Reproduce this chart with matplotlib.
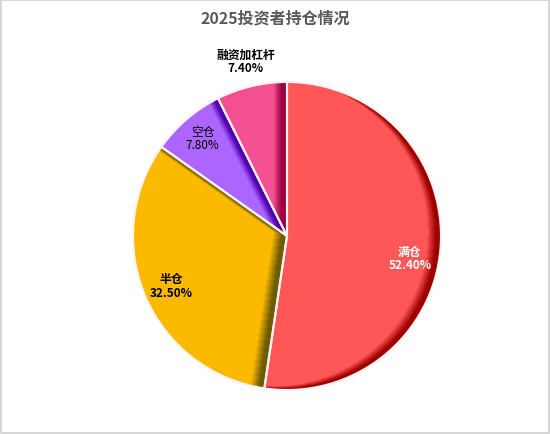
import numpy as np
import matplotlib
matplotlib.use("Agg")
import matplotlib.pyplot as plt
from matplotlib.patches import Rectangle

plt.rcParams['font.family'] = ['Noto Sans CJK SC', 'DejaVu Sans']

# data
labels = ['满仓', '半仓', '空仓', '融资加杠杆']
values = [52.40, 32.50, 7.80, 7.40]

# styles
colors = ['#FF5757', '#FBB900', '#AC66FF', '#F2508F']
shadow_colors = ['#9E0000', '#6E5C00', '#5000B0', '#9A0040']
label_colors = ['white', 'black', 'black', 'black']
label_weights = ['bold', 'bold', 'normal', 'bold']
label_dist = [0.81, 0.82, 0.84, 1.17]
label_turn = [-6, 0, 0, 0]

W, H = 550, 435
fig = plt.figure(figsize=(W / 100, H / 100), dpi=100)
ax = fig.add_axes([0, 0, 1, 1])

center = (287, 198)
R = 154


def fix_axes():
    ax.set_xlim(0, W)
    ax.set_ylim(0, H)
    ax.axis('off')


wedges, _ = ax.pie(values, colors=colors, startangle=90, counterclock=False,
                   center=center, radius=R, frame=True,
                   wedgeprops=dict(linewidth=0))
fix_axes()

# bevel-like inner shadow on the right-hand edges of every slice
xs = np.arange(W) + 0.5
ys = np.arange(H) + 0.5
X, Y = np.meshgrid(xs, ys)
off = np.array([1.0, -0.3])
off = off / np.hypot(*off)
D = 14


def inside(px, py, w):
    dx = px - w.center[0]
    dy = py - w.center[1]
    rr = np.hypot(dx, dy)
    ang = np.degrees(np.arctan2(dy, dx))
    a = (ang - w.theta1) % 360
    return (rr <= w.r) & (a <= (w.theta2 - w.theta1))


for w, sc in zip(wedges, shadow_colors):
    amt = np.zeros_like(X)
    for k in range(1, D + 1):
        amt += ~inside(X + k * off[0], Y + k * off[1], w)
    amt = np.clip(amt / D * 1.5, 0, 1)
    img = np.zeros((H, W, 4))
    img[..., :3] = matplotlib.colors.to_rgb(sc)
    img[..., 3] = amt
    im = ax.imshow(img, extent=(0, W, 0, H), origin='lower', zorder=2,
                   interpolation='bilinear')
    im.set_clip_path(w)

# white slice outlines on top
ax.pie(values, colors=['none'] * len(values), startangle=90, counterclock=False,
       center=center, radius=R, frame=True,
       wedgeprops=dict(linewidth=1.5, edgecolor='#FFF2F2', zorder=3))
fix_axes()

for w, lab, v, col, fw, d, t in zip(wedges, labels, values, label_colors,
                                    label_weights, label_dist, label_turn):
    mid = np.radians((w.theta1 + w.theta2) / 2 + t)
    x = center[0] + d * R * np.cos(mid)
    y = center[1] + d * R * np.sin(mid)
    ax.text(x, y, f"{lab}\n{v:.2f}%", ha='center', va='center', fontsize=8.5,
            color=col, fontweight=fw, linespacing=1.05, zorder=5)

ax.text(W / 2, H - 18, '2025投资者持仓情况', ha='center', va='center',
        fontsize=11.5, fontweight='bold', color='#595959')

# chart area border
ax.add_patch(Rectangle((1, 1), W - 2, H - 2, fill=False, edgecolor='#D0D0D0',
                       linewidth=1.2, zorder=6, clip_on=False))

fig.savefig('out.png', dpi=100)
